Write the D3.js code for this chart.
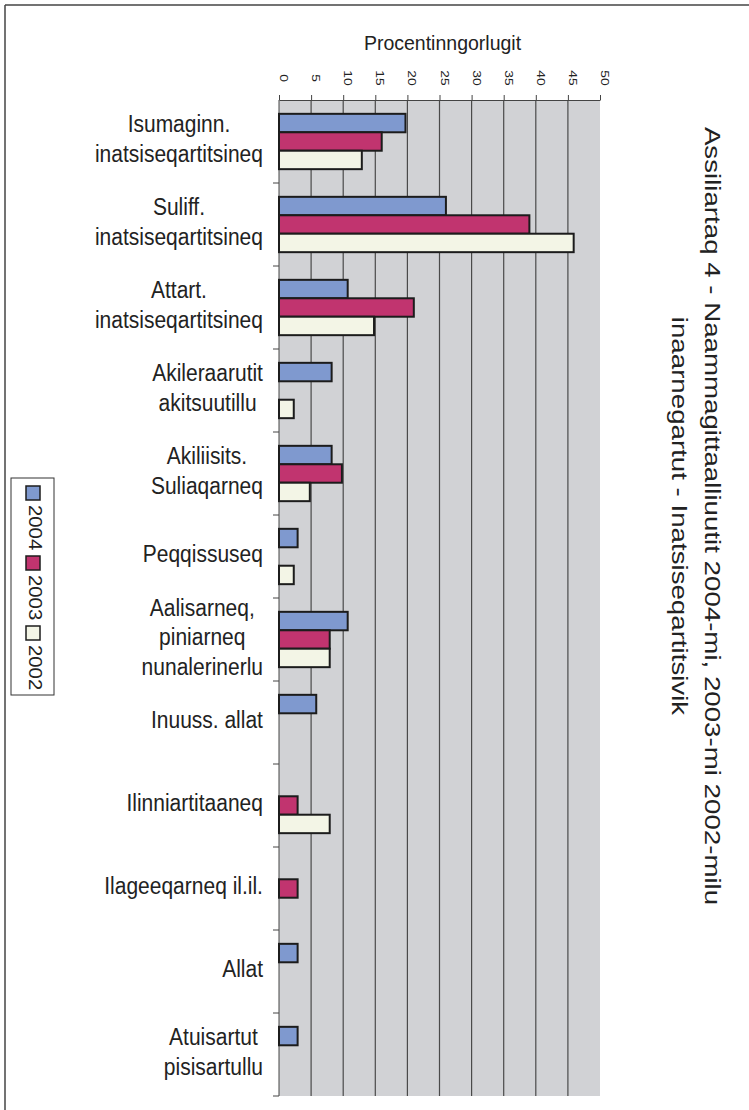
<!DOCTYPE html>
<html>
<head>
<meta charset="utf-8">
<script src="https://cdn.jsdelivr.net/npm/d3@7"></script>
<style>
  body { margin: 0; background: #fff; }
  svg { display: block; font-family: "Liberation Sans", Arial, sans-serif; }
</style>
</head>
<body>
<script>
// category labels, one entry per line of the wrapped label
const categories = [
    ["Isumaginn.", "inatsiseqartitsineq"],
    ["Suliff.", "inatsiseqartitsineq"],
    ["Attart.", "inatsiseqartitsineq"],
    ["Akileraarutit", "akitsuutillu"],
    ["Akiliisits.", "Suliaqarneq"],
    ["Peqqissuseq"],
    ["Aalisarneq,", "piniarneq", "nunalerinerlu"],
    ["Inuuss. allat"],
    ["Ilinniartitaaneq"],
    ["Ilageeqarneq il.il."],
    ["Allat"],
    ["Atuisartut", "pisisartullu"]
];
const years = ["2004", "2003", "2002"];
const values2004 = [19.7, 26.0, 10.7, 8.2, 8.2, 2.9, 10.7, 5.8, null, null, 2.9, 2.9];
const values2003 = [16.0, 39.0, 21.0, null, 9.8, null, 7.9, null, 2.9, 2.9, null, null];
const values2002 = [12.9, 45.9, 14.8, 2.3, 4.8, 2.3, 7.9, null, 7.9, null, null, null];
const tickValues = [0, 5, 10, 15, 20, 25, 30, 35, 40, 45, 50];
const axisTitle = "Procentinngorlugit";
const titleLines = [
    "Assiliartaq 4 - Naammagittaalliuutit 2004-mi, 2003-mi 2002-milu",
    "inaarnegartut - Inatsiseqartitsivik"
];

const colors = { "2004": "#7f99cf", "2003": "#c1346f", "2002": "#f3f5e6" };
const seriesValues = { "2004": values2004, "2003": values2003, "2002": values2002 };

const width = 749, height = 1110;
const stretch = 1.1;   // text in the picture is a bit taller than wide

const svg = d3.select('body').append('svg')
    .attr('width', width)
    .attr('height', height);

// frame (only top and left edges show)
svg.append('line').attr('x1', 5).attr('y1', 5).attr('x2', width).attr('y2', 5)
    .attr('stroke', '#444').attr('stroke-width', 1.5);
svg.append('line').attr('x1', 5).attr('y1', 5).attr('x2', 5).attr('y2', height)
    .attr('stroke', '#444').attr('stroke-width', 1.5);

const x = d3.scaleLinear().domain([0, 50]).range([279, 600]);
const y0 = d3.scaleBand().domain(d3.range(categories.length)).range([100, 1096]);
const y1 = d3.scaleBand().domain(years).range([0, y0.bandwidth()])
    .paddingInner(0).paddingOuter(0.75);

// plot background
svg.append('rect')
    .attr('x', x(0)).attr('y', y0.range()[0])
    .attr('width', x(50) - x(0)).attr('height', y0.range()[1] - y0.range()[0])
    .attr('fill', '#d1d2d5');

// vertical gridlines
svg.append('g').selectAll('line')
    .data(tickValues.filter(d => d > 0 && d < 50))
    .enter().append('line')
    .attr('x1', d => x(d)).attr('x2', d => x(d))
    .attr('y1', y0.range()[0]).attr('y2', y0.range()[1])
    .attr('stroke', '#4a4a4a').attr('stroke-width', 1.2);

// top axis
const topAxis = svg.append('g')
    .attr('transform', `translate(0,${y0.range()[0]})`)
    .call(d3.axisTop(x).tickValues(tickValues).tickSize(5).tickSizeOuter(0).tickFormat(''));
topAxis.select('.domain').attr('stroke', '#444');
topAxis.selectAll('.tick line').attr('stroke', '#444');

svg.append('g').selectAll('text')
    .data(tickValues)
    .enter().append('text')
    .attr('transform', d => `translate(${x(d) + 1},78) scale(1,1.2) rotate(90)`)
    .attr('text-anchor', 'middle')
    .attr('font-size', 11.5)
    .attr('fill', '#222')
    .text(d => d);

svg.append('text')
    .attr('transform', `translate(${(x(0) + x(50)) / 2 + 3},50)`)
    .attr('text-anchor', 'middle')
    .attr('font-size', 19.5)
    .attr('fill', '#222')
    .text(axisTitle);

// left axis with ticks between categories
svg.append('line')
    .attr('x1', x(0)).attr('x2', x(0))
    .attr('y1', y0.range()[0]).attr('y2', y0.range()[1])
    .attr('stroke', '#444');
svg.append('g').selectAll('line')
    .data(d3.range(1, categories.length + 1))
    .enter().append('line')
    .attr('x1', x(0) - 6).attr('x2', x(0))
    .attr('y1', i => y0.range()[0] + i * y0.step())
    .attr('y2', i => y0.range()[0] + i * y0.step())
    .attr('stroke', '#444');

// bars
const barData = [];
categories.forEach((c, i) => {
    years.forEach(yr => {
        const v = seriesValues[yr][i];
        if (v != null) barData.push({ i, yr, v });
    });
});

svg.append('g').selectAll('rect')
    .data(barData)
    .enter().append('rect')
    .attr('x', x(0))
    .attr('y', d => y0(d.i) + y1(d.yr))
    .attr('width', d => x(d.v) - x(0))
    .attr('height', y1.bandwidth())
    .attr('fill', d => colors[d.yr])
    .attr('stroke', '#1c1c1c')
    .attr('stroke-width', 2);

// category labels: centred lines, right edge of widest line near the axis
const lineH = 29.5;
const labelG = svg.append('g');
categories.forEach((lines, i) => {
    const g = labelG.append('g');
    const cy = y0(i) + y0.bandwidth() / 2;
    const texts = g.selectAll('text')
        .data(lines)
        .enter().append('text')
        .attr('text-anchor', 'middle')
        .attr('font-size', 21)
        .attr('fill', '#222')
        .text(d => d);
    const maxW = d3.max(texts.nodes(), n => n.getComputedTextLength());
    const cx = 263 - maxW / 2;
    texts.attr('transform', (d, k) =>
        `translate(${cx},${cy - (lines.length - 1) * lineH / 2 + k * lineH + 5.5}) scale(1,${stretch})`);
});

// chart title, rotated on the right
svg.append('g').selectAll('text')
    .data(titleLines)
    .enter().append('text')
    .attr('transform', (d, k) => `translate(${705 - k * 33},516) scale(1,1.23) rotate(90)`)
    .attr('text-anchor', 'middle')
    .attr('font-size', 22.5)
    .attr('fill', '#222')
    .text(d => d);

// legend
const legend = svg.append('g');
legend.append('rect')
    .attr('x', 11).attr('y', 478).attr('width', 43).attr('height', 217)
    .attr('fill', '#fff').attr('stroke', '#333').attr('stroke-width', 1);
const item = legend.selectAll('g.item')
    .data(years)
    .enter().append('g')
    .attr('class', 'item');
item.append('rect')
    .attr('x', 26).attr('y', (d, k) => 486 + k * 70)
    .attr('width', 14).attr('height', 14)
    .attr('fill', d => colors[d])
    .attr('stroke', '#1c1c1c').attr('stroke-width', 1.5);
item.append('text')
    .attr('transform', (d, k) => `translate(28.5,${505 + k * 70}) scale(1,${stretch}) rotate(90)`)
    .attr('font-size', 18.5)
    .attr('fill', '#222')
    .text(d => d);
</script>
</body>
</html>
